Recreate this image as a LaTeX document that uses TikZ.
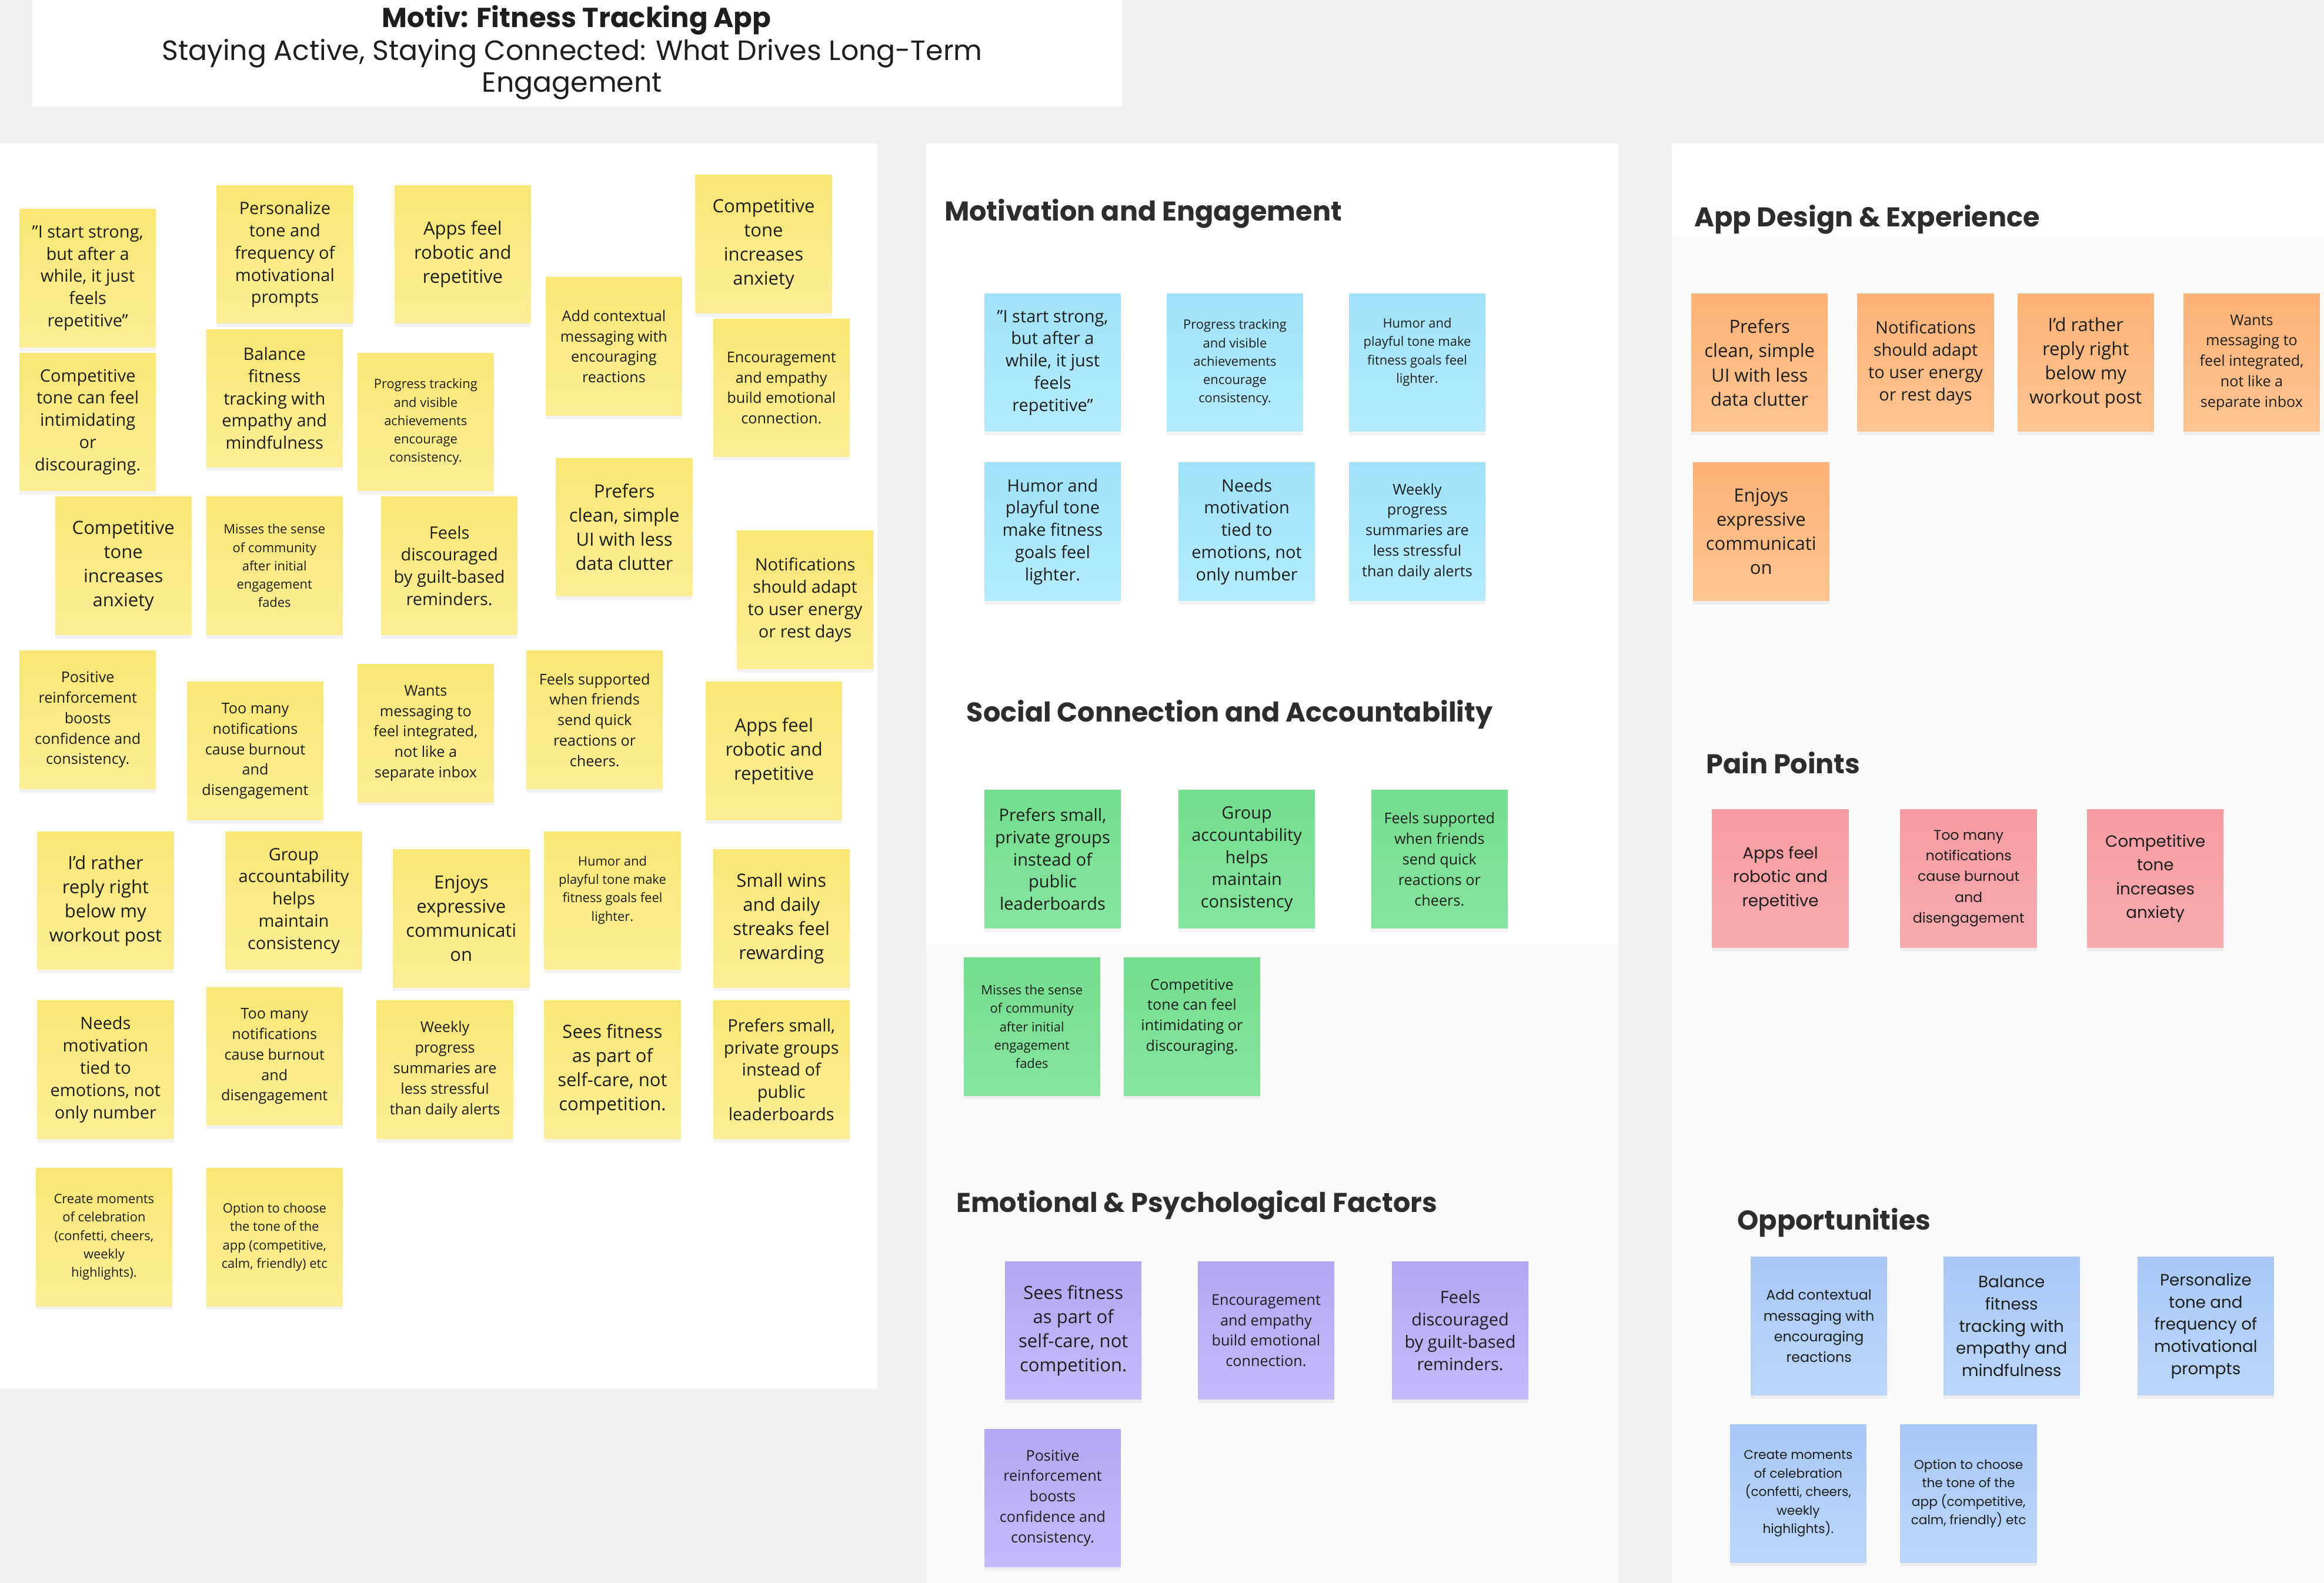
\documentclass[tikz,border=0pt]{standalone}
\usepackage{fontspec}
\setmainfont{Open Sans}
\newfontfamily\geofont{Poppins}
\usepackage{xcolor}
\usepackage{tikz}
\usetikzlibrary{shadows}
\definecolor{boardbg}{RGB}{240,240,240}
\definecolor{panelgray}{RGB}{250,250,250}
\definecolor{ink}{RGB}{30,30,30}
\definecolor{headink}{RGB}{45,45,45}
\definecolor{yellowtop}{RGB}{249,230,117}
\definecolor{yellowbot}{RGB}{252,238,150}
\definecolor{bluetop}{RGB}{160,226,250}
\definecolor{bluebot}{RGB}{180,235,253}
\definecolor{greentop}{RGB}{116,221,142}
\definecolor{greenbot}{RGB}{134,228,158}
\definecolor{purpletop}{RGB}{180,166,244}
\definecolor{purplebot}{RGB}{197,186,250}
\definecolor{orangetop}{RGB}{253,178,118}
\definecolor{orangebot}{RGB}{255,196,146}
\definecolor{redtop}{RGB}{245,155,160}
\definecolor{redbot}{RGB}{248,171,176}
\definecolor{ltbluetop}{RGB}{168,200,245}
\definecolor{ltbluebot}{RGB}{187,214,250}
\newcommand{\dq}{\symbol{34}}

\begin{document}
\begin{tikzpicture}[x=1pt, y=-1pt,
  every node/.style={text=ink, inner sep=0pt},
  note/.style={anchor=north west, minimum width=92pt, minimum height=93pt, align=center,
    drop shadow={shadow xshift=0pt, shadow yshift=-2.5pt, opacity=0.10}},
  ynote/.style={note, top color=yellowtop, bottom color=yellowbot},
  bnote/.style={note, top color=bluetop, bottom color=bluebot},
  gnote/.style={note, top color=greentop, bottom color=greenbot},
  pnote/.style={note, top color=purpletop, bottom color=purplebot},
  onote/.style={note, top color=orangetop, bottom color=orangebot},
  rnote/.style={note, top color=redtop, bottom color=redbot},
  lnote/.style={note, top color=ltbluetop, bottom color=ltbluebot},
  fXL/.style={font=\fontsize{12.3}{16.3}\selectfont},
  fL/.style={font=\fontsize{11.5}{15}\selectfont},
  fM/.style={font=\fontsize{10}{13.8}\selectfont},
  fS/.style={font=\fontsize{8.7}{12.4}\selectfont},
  gL/.style={font=\geofont\fontsize{11}{16}\selectfont},
  gL2/.style={font=\geofont\fontsize{11}{15}\selectfont},
  gM/.style={font=\geofont\fontsize{9.4}{14}\selectfont},
  gS/.style={font=\geofont\fontsize{8.6}{12.5}\selectfont},
  head/.style={anchor=base west, text=headink, font=\geofont\bfseries\fontsize{18.3}{22}\selectfont}]
\useasboundingbox (0,0) rectangle (1568,1068);
% board and panels
\fill[boardbg] (0,0) rectangle (1568,1068);
\fill[white] (22,0) rectangle (757,72);
\fill[white] (0,97) rectangle (592,937);
\fill[white] (625,97) rectangle (1092,1068);
\fill[panelgray] (625,637) rectangle (1092,1068);
\fill[white] (1128,97) rectangle (1568,1068);
\fill[panelgray] (1128,160) rectangle (1568,1068);

% title
\node[anchor=base, font=\geofont\bfseries\fontsize{18.5}{22}\selectfont] (title) at (389,18.5) {Motiv: Fitness Tracking App};
\node[anchor=base, font=\geofont\fontsize{18.8}{22}\selectfont] (subtitle) at (386,40.5) {Staying Active, Staying Connected: What Drives Long-Term};
\node[anchor=base, font=\geofont\fontsize{18.8}{22}\selectfont] (subtitle2) at (386,62) {Engagement};

% raw notes
\node[ynote, fL] (raw-start) at (13,141) {\dq I start strong,\\but after a\\while, it just\\feels\\repetitive\dq};
\node[ynote, fL] (raw-personal) at (146,125) {Personalize\\tone and\\frequency of\\motivational\\prompts};
\node[ynote, fXL] (raw-robotic) at (266,125) {Apps feel\\robotic and\\repetitive};
\node[ynote, fM] (raw-context) at (368,187) {Add contextual\\messaging with\\encouraging\\reactions};
\node[ynote, fXL] (raw-anx) at (469,118) {Competitive\\tone\\increases\\anxiety};
\node[ynote, fL] (raw-intim) at (13,238) {Competitive\\tone can feel\\intimidating\\or\\discouraging.};
\node[ynote, fL] (raw-balance) at (139,222) {Balance\\fitness\\tracking with\\empathy and\\mindfulness};
\node[ynote, fS] (raw-progress) at (241,238) {Progress tracking\\and visible\\achievements\\encourage\\consistency.};
\node[ynote, fM] (raw-encour) at (481,215) {Encouragement\\and empathy\\build emotional\\connection.};
\node[ynote, fXL] (raw-anx2) at (37,335) {Competitive\\tone\\increases\\anxiety};
\node[ynote, fS] (raw-misses) at (139,335) {Misses the sense\\of community\\after initial\\engagement\\fades};
\node[ynote, fL] (raw-guilt) at (257,335) {Feels\\discouraged\\by guilt-based\\reminders.};
\node[ynote, fXL] (raw-clean) at (375,309) {Prefers\\clean, simple\\UI with less\\data clutter};
\node[ynote, fL] (raw-adapt) at (497,358) {Notifications\\should adapt\\to user energy\\or rest days};
\node[ynote, fM] (raw-positive) at (13,439) {Positive\\reinforcement\\boosts\\confidence and\\consistency.};
\node[ynote, fM] (raw-burnout) at (126,460) {Too many\\notifications\\cause burnout\\and\\disengagement};
\node[ynote, fM] (raw-inbox) at (241,448) {Wants\\messaging to\\feel integrated,\\not like a\\separate inbox};
\node[ynote, fM] (raw-support) at (355,439) {Feels supported\\when friends\\send quick\\reactions or\\cheers.};
\node[ynote, fXL] (raw-robotic2) at (476,460) {Apps feel\\robotic and\\repetitive};
\node[ynote, fXL] (raw-rather) at (25,561) {I’d rather\\reply right\\below my\\workout post};
\node[ynote, fL] (raw-group) at (152,561) {Group\\accountability\\helps\\maintain\\consistency};
\node[ynote, fXL] (raw-enjoy) at (265,573) {Enjoys\\expressive\\communicati\\on};
\node[ynote, fS] (raw-humor) at (367,561) {Humor and\\playful tone make\\fitness goals feel\\lighter.\\[4pt]\mbox{}};
\node[ynote, fXL] (raw-wins) at (481,573) {Small wins\\and daily\\streaks feel\\rewarding};
\node[ynote, fL] (raw-needs) at (25,675) {Needs\\motivation\\tied to\\emotions, not\\only number};
\node[ynote, fM] (raw-burnout2) at (139,666) {Too many\\notifications\\cause burnout\\and\\disengagement};
\node[ynote, fM] (raw-weekly) at (254,675) {Weekly\\progress\\summaries are\\less stressful\\than daily alerts};
\node[ynote, fXL] (raw-selfcare) at (367,675) {Sees fitness\\as part of\\self-care, not\\competition.};
\node[ynote, fL] (raw-private) at (481,675) {Prefers small,\\private groups\\instead of\\public\\leaderboards};
\node[ynote, fS] (raw-celebrate) at (24,788) {Create moments\\of celebration\\(confetti, cheers,\\weekly\\highlights).};
\node[ynote, fS] (raw-choose) at (139,788) {Option to choose\\the tone of the\\app (competitive,\\calm, friendly) etc};

% motivation and engagement
\node[head] (h-mot) at (637,149) {Motivation and Engagement};
\node[bnote, fL] (mot-start) at (664,198) {\dq I start strong,\\but after a\\while, it just\\feels\\repetitive\dq};
\node[bnote, fS] (mot-progress) at (787,198) {Progress tracking\\and visible\\achievements\\encourage\\consistency.};
\node[bnote, fS] (mot-humor) at (910,198) {Humor and\\playful tone make\\fitness goals feel\\lighter.\\[4pt]\mbox{}};
\node[bnote, fL] (mot-humor2) at (664,312) {Humor and\\playful tone\\make fitness\\goals feel\\lighter.};
\node[bnote, fL] (mot-needs) at (795,312) {Needs\\motivation\\tied to\\emotions, not\\only number};
\node[bnote, fM] (mot-weekly) at (910,312) {Weekly\\progress\\summaries are\\less stressful\\than daily alerts};

% social connection
\node[head] (h-soc) at (652,487) {Social Connection and Accountability};
\node[gnote, fL] (soc-private) at (664,533) {Prefers small,\\private groups\\instead of\\public\\leaderboards};
\node[gnote, fL] (soc-group) at (795,533) {Group\\accountability\\helps\\maintain\\consistency};
\node[gnote, fM] (soc-support) at (925,533) {Feels supported\\when friends\\send quick\\reactions or\\cheers.};
\node[gnote, fS] (soc-misses) at (650,646) {Misses the sense\\of community\\after initial\\engagement\\fades};
\node[gnote, fM] (soc-intim) at (758,646) {Competitive\\tone can feel\\intimidating or\\discouraging.\\[2pt]\mbox{}};

% emotional factors
\node[head] (h-emo) at (645,818) {Emotional \& Psychological Factors};
\node[pnote, fXL] (emo-selfcare) at (678,851) {Sees fitness\\as part of\\self-care, not\\competition.};
\node[pnote, fM] (emo-encour) at (808,851) {Encouragement\\and empathy\\build emotional\\connection.};
\node[pnote, fL] (emo-guilt) at (939,851) {Feels\\discouraged\\by guilt-based\\reminders.};
\node[pnote, fM] (emo-positive) at (664,964) {Positive\\reinforcement\\boosts\\confidence and\\consistency.};

% app design
\node[head] (h-app) at (1143,153) {App Design \& Experience};
\node[onote, fXL] (app-clean) at (1141,198) {Prefers\\clean, simple\\UI with less\\data clutter};
\node[onote, fL] (app-adapt) at (1253,198) {Notifications\\should adapt\\to user energy\\or rest days};
\node[onote, fXL] (app-rather) at (1361,198) {I’d rather\\reply right\\below my\\workout post};
\node[onote, fM] (app-inbox) at (1473,198) {Wants\\messaging to\\feel integrated,\\not like a\\separate inbox};
\node[onote, fXL] (app-enjoy) at (1142,312) {Enjoys\\expressive\\communicati\\on};

% pain points
\node[head] (h-pain) at (1151,522) {Pain Points};
\node[rnote, gL] (pain-robotic) at (1155,546) {Apps feel\\robotic and\\repetitive};
\node[rnote, gM] (pain-burnout) at (1282,546) {Too many\\notifications\\cause burnout\\and\\disengagement};
\node[rnote, gL] (pain-anx) at (1408,546) {Competitive\\tone\\increases\\anxiety};

% opportunities
\node[head] (h-opp) at (1172,830) {Opportunities};
\node[lnote, gM] (opp-context) at (1181,848) {Add contextual\\messaging with\\encouraging\\reactions};
\node[lnote, gL2] (opp-balance) at (1311,848) {Balance\\fitness\\tracking with\\empathy and\\mindfulness};
\node[lnote, gL2] (opp-personal) at (1442,848) {Personalize\\tone and\\frequency of\\motivational\\prompts};
\node[lnote, gS] (opp-celebrate) at (1167,961) {Create moments\\of celebration\\(confetti, cheers,\\weekly\\highlights).};
\node[lnote, gS] (opp-choose) at (1282,961) {Option to choose\\the tone of the\\app (competitive,\\calm, friendly) etc};
\end{tikzpicture}
\end{document}
